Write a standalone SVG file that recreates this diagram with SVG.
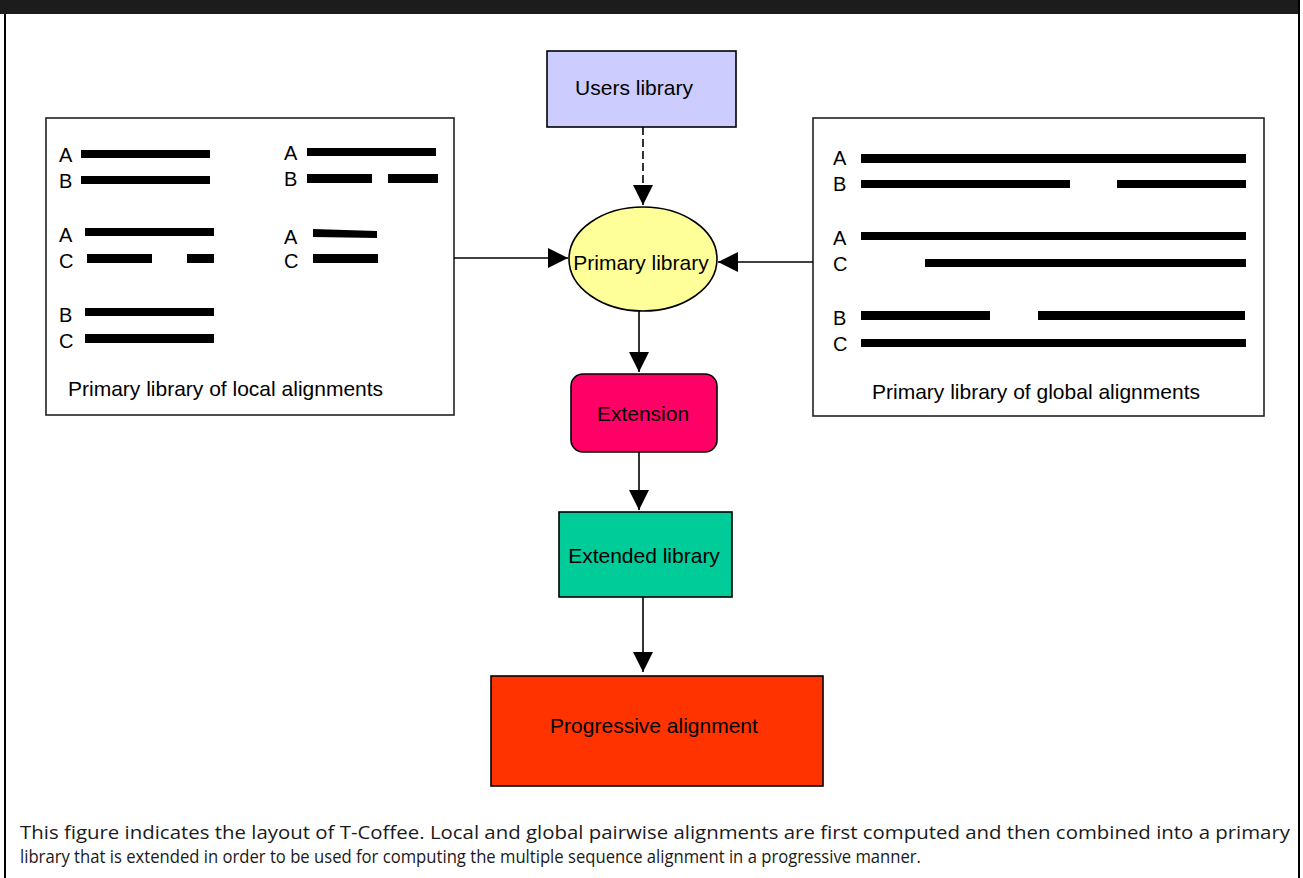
<svg xmlns="http://www.w3.org/2000/svg" width="1303" height="878" viewBox="0 0 1303 878">
<defs>
<style>
.t{font-family:"Liberation Sans",Arial,sans-serif;font-size:21px;fill:#000}
.lab{font-family:"Liberation Sans",Arial,sans-serif;font-size:20px;fill:#000}
.bar{fill:#000}
.box{stroke:#000;stroke-width:1.6}
.lib{fill:#fff;stroke:#222;stroke-width:1.6}
.con{stroke:#000;stroke-width:1.6;fill:none}
.cap{font-family:"Open Sans","Noto Sans",sans-serif;font-size:19px;fill:#1a1a1a}
</style>
<marker id="ah" markerWidth="20" markerHeight="20" viewBox="0 0 20 20" refX="20" refY="10" orient="auto" markerUnits="userSpaceOnUse">
<path d="M0,0 L20,10 L0,20 Z" fill="#000"/>
</marker>
</defs>
<rect x="0" y="0" width="1298" height="14" fill="#1c1c1c"/>
<rect x="4" y="14" width="2" height="864" fill="#000"/>
<rect x="1298" y="0" width="2" height="878" fill="#000"/>

<g id="local-library">
<rect class="lib" x="46" y="118" width="408" height="297"/>
<text class="lab" x="59" y="162">A</text>
<rect class="bar" x="81" y="150" width="129" height="8"/>
<text class="lab" x="59" y="188">B</text>
<rect class="bar" x="81" y="176" width="129" height="8"/>
<text class="lab" x="284" y="160">A</text>
<rect class="bar" x="307" y="148" width="129" height="8"/>
<text class="lab" x="284" y="186">B</text>
<rect class="bar" x="307" y="174" width="65" height="9"/>
<rect class="bar" x="388" y="174" width="50" height="9"/>
<text class="lab" x="59" y="242">A</text>
<rect class="bar" x="85" y="228" width="129" height="8"/>
<text class="lab" x="59" y="268">C</text>
<rect class="bar" x="87" y="254" width="65" height="9"/>
<rect class="bar" x="187" y="254" width="27" height="9"/>
<text class="lab" x="284" y="244">A</text>
<path class="bar" d="M313,229 L377,231 L377,238 L313,237 Z"/>
<text class="lab" x="284" y="268">C</text>
<rect class="bar" x="313" y="254" width="65" height="9"/>
<text class="lab" x="59" y="322">B</text>
<rect class="bar" x="85" y="308" width="129" height="8"/>
<text class="lab" x="59" y="348">C</text>
<rect class="bar" x="85" y="334" width="129" height="9"/>
<text class="t" x="68" y="396">Primary library of local alignments</text>
</g>

<g id="global-library">
<rect class="lib" x="813" y="118" width="451" height="298"/>
<text class="lab" x="833" y="165">A</text>
<rect class="bar" x="861" y="154" width="385" height="9"/>
<text class="lab" x="833" y="191">B</text>
<rect class="bar" x="861" y="180" width="209" height="8"/>
<rect class="bar" x="1117" y="180" width="129" height="8"/>
<text class="lab" x="833" y="245">A</text>
<rect class="bar" x="861" y="232" width="385" height="8"/>
<text class="lab" x="833" y="271">C</text>
<rect class="bar" x="925" y="259" width="321" height="8"/>
<text class="lab" x="833" y="325">B</text>
<rect class="bar" x="861" y="311" width="129" height="9"/>
<rect class="bar" x="1038" y="311" width="207" height="9"/>
<text class="lab" x="833" y="351">C</text>
<rect class="bar" x="861" y="339" width="385" height="8"/>
<text class="t" x="872" y="399">Primary library of global alignments</text>
</g>

<g id="users-library">
<rect class="box" x="547" y="51" width="189" height="76" fill="#ccccff"/>
<text class="t" x="634" y="95" text-anchor="middle">Users library</text>
</g>

<g id="primary-library">
<ellipse class="box" cx="643" cy="259" rx="74" ry="52" fill="#ffff99"/>
<text class="t" x="641" y="270" text-anchor="middle">Primary library</text>
</g>

<g id="extension">
<rect class="box" x="571" y="374" width="146" height="78" rx="12" fill="#ff0066"/>
<text class="t" x="643" y="421" text-anchor="middle">Extension</text>
</g>

<g id="extended-library">
<rect class="box" x="559" y="512" width="173" height="85" fill="#00cc99"/>
<text class="t" x="644" y="563" text-anchor="middle">Extended library</text>
</g>

<g id="progressive-alignment">
<rect class="box" x="491" y="676" width="332" height="110" fill="#ff3300"/>
<text class="t" x="654" y="733" text-anchor="middle">Progressive alignment</text>
</g>

<g id="connectors">
<line class="con" x1="643" y1="127" x2="643" y2="205" stroke-dasharray="8,4" marker-end="url(#ah)"/>
<line class="con" x1="454" y1="258" x2="568" y2="258" marker-end="url(#ah)"/>
<line class="con" x1="813" y1="262" x2="718" y2="262" marker-end="url(#ah)"/>
<line class="con" x1="639" y1="311" x2="639" y2="372" marker-end="url(#ah)"/>
<line class="con" x1="639" y1="452" x2="639" y2="510" marker-end="url(#ah)"/>
<line class="con" x1="643" y1="597" x2="643" y2="672" marker-end="url(#ah)"/>
</g>

<g id="caption">
<text class="cap" x="20" y="839" textLength="1270" lengthAdjust="spacingAndGlyphs">This figure indicates the layout of T-Coffee. Local and global pairwise alignments are first computed and then combined into a primary</text>
<text class="cap" x="20" y="863" textLength="901" lengthAdjust="spacingAndGlyphs">library that is extended in order to be used for computing the multiple sequence alignment in a progressive manner.</text>
</g>
</svg>
